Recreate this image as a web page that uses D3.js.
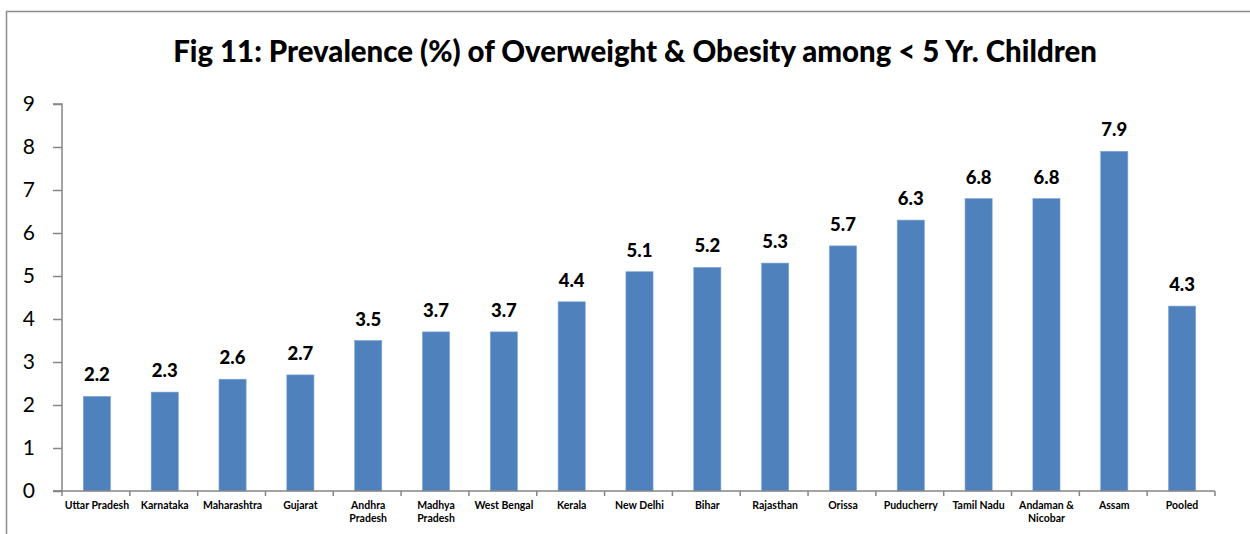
<!DOCTYPE html>
<html><head><meta charset="utf-8">
<script src="https://cdn.jsdelivr.net/npm/d3@7"></script>
<style>body{margin:0;background:#fff}svg{display:block}</style>
</head><body>
<svg id="c" width="1250" height="534"></svg>
<script>
const categories = ["Uttar Pradesh","Karnataka","Maharashtra","Gujarat","Andhra Pradesh","Madhya Pradesh","West Bengal","Kerala","New Delhi","Bihar","Rajasthan","Orissa","Puducherry","Tamil Nadu","Andaman & Nicobar","Assam","Pooled"];
const labelLines = [["Uttar Pradesh"],["Karnataka"],["Maharashtra"],["Gujarat"],["Andhra","Pradesh"],["Madhya","Pradesh"],["West Bengal"],["Kerala"],["New Delhi"],["Bihar"],["Rajasthan"],["Orissa"],["Puducherry"],["Tamil Nadu"],["Andaman &","Nicobar"],["Assam"],["Pooled"]];
const values = [2.2,2.3,2.6,2.7,3.5,3.7,3.7,4.4,5.1,5.2,5.3,5.7,6.3,6.8,6.8,7.9,4.3];
const yTicks = [0,1,2,3,4,5,6,7,8,9];
const title = "Fig 11: Prevalence (%) of Overweight & Obesity among < 5 Yr. Children";

(function(){
const svg = d3.select("#c");
const font = "Lato, 'Open Sans', sans-serif";
svg.append("path").attr("d","M6.5,534 V11.5 H1250").attr("fill","none").attr("stroke","#8c8c8c").attr("stroke-width",1.5);

const pL=62, pR=1215, pT=104, pB=491;
const x = d3.scaleBand().domain(categories).range([pL,pR]).paddingInner(0.6).paddingOuter(0.3);
const y = d3.scaleLinear().domain([0,9]).range([pB,pT]);

const t = svg.append("text").attr("x",635).attr("y",62).attr("text-anchor","middle")
  .attr("font-family",font).attr("font-weight","900").attr("font-size",26).attr("fill","#000").text(title);
const w = t.node().getComputedTextLength();
t.attr("font-size", 26*924/w);

svg.selectAll("rect.bar").data(values).join("rect").attr("class","bar")
  .attr("x",(d,i)=>x(categories[i])+1).attr("width",x.bandwidth())
  .attr("y",d=>y(d)).attr("height",d=>y(0)-y(d))
  .attr("fill","#4F81BD").attr("stroke","#7ea4d6").attr("stroke-width",0.6);

svg.selectAll("text.val").data(values).join("text").attr("class","val")
  .attr("x",(d,i)=>x(categories[i])+1+x.bandwidth()/2).attr("y",d=>y(d)-15)
  .attr("text-anchor","middle").attr("font-family",font).attr("font-weight","900")
  .attr("font-size",18.5).attr("fill","#000").text(d=>d.toFixed(1));

const yAxis = svg.append("g").attr("transform",`translate(${pL},0)`)
  .call(d3.axisLeft(y).tickValues(yTicks).tickSize(9).tickPadding(18).tickFormat(d3.format("d")));
yAxis.select(".domain").attr("stroke","#868686").attr("stroke-width",1.5).attr("d",`M-9,${pT}H0V${pB}H-9`);
yAxis.selectAll(".tick line").attr("stroke","#868686").attr("stroke-width",1.5);
yAxis.selectAll(".tick text").attr("font-family",font).attr("font-size",21).attr("fill","#000");

const xAxis = svg.append("g").attr("transform",`translate(0,${pB})`);
xAxis.append("line").attr("x1",pL-9).attr("x2",pR).attr("stroke","#868686").attr("stroke-width",1.5);
const bounds = d3.range(categories.length+1).map(i=>pL + i*(pR-pL)/categories.length);
xAxis.selectAll("line.tk").data(bounds).join("line").attr("class","tk")
  .attr("x1",d=>d).attr("x2",d=>d).attr("y1",0).attr("y2",5).attr("stroke","#868686").attr("stroke-width",1.5);
const lab = xAxis.selectAll("text.xl").data(categories).join("text").attr("class","xl")
  .attr("x",d=>x(d)+1+x.bandwidth()/2).attr("y",18).attr("text-anchor","middle")
  .attr("font-family",font).attr("font-weight","bold").attr("font-size",10.5).attr("fill","#000");
lab.each(function(d,i){
  const el=d3.select(this);
  labelLines[i].forEach((l,j)=>el.append("tspan").attr("x",x(d)+1+x.bandwidth()/2).attr("dy",j?13:0).text(l));
});
})();
</script>
</body></html>
